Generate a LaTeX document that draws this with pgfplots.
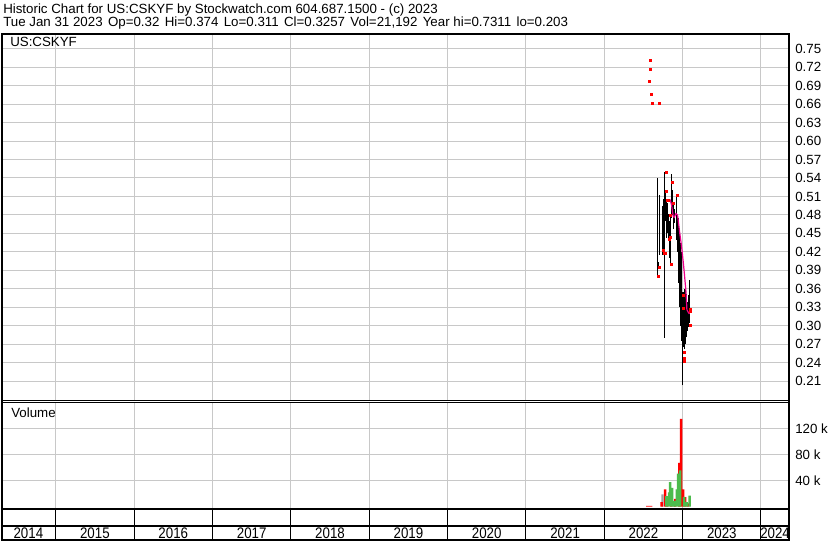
\documentclass[border=0pt]{standalone}
\usepackage{fontspec}
\setmainfont{Liberation Sans}
\usepackage{pgfplots}
\usepackage{pgfplotstable}
\pgfplotsset{compat=1.18}

\definecolor{gridgray}{RGB}{200,200,200}
\definecolor{volgreen}{RGB}{76,187,76}
\definecolor{volgray}{RGB}{160,160,160}

% daily high/low (x in decimal years)
\pgfplotstableread{
x        lo     hi
2022.680 0.381  0.540
2022.693 0.394  0.404
2022.706 0.415  0.513
2022.744 0.415  0.494
2022.759 0.417  0.506
2022.775 0.280  0.550
2022.785 0.470  0.520
2022.797 0.443  0.506
2022.808 0.450  0.500
2022.820 0.440  0.481
2022.830 0.410  0.470
2022.840 0.397  0.480
2022.859 0.475  0.547
2022.871 0.480  0.520
2022.880 0.457  0.500
2022.897 0.467  0.490
2022.918 0.443  0.513
2022.925 0.440  0.490
2022.931 0.430  0.480
2022.938 0.420  0.478
2022.944 0.400  0.475
2022.947 0.390  0.468
2022.950 0.380  0.470
2022.953 0.370  0.462
2022.957 0.356  0.456
2022.960 0.345  0.450
2022.963 0.350  0.440
2022.966 0.330  0.438
2022.969 0.340  0.435
2022.972 0.320  0.432
2022.976 0.320  0.430
2022.979 0.300  0.425
2022.982 0.300  0.420
2022.985 0.290  0.400
2022.988 0.282  0.390
2022.991 0.275  0.380
2022.995 0.203  0.354
2023.000 0.280  0.350
2023.005 0.285  0.340
2023.010 0.270  0.354
2023.013 0.268  0.352
2023.016 0.265  0.350
2023.019 0.262  0.348
2023.023 0.275  0.350
2023.026 0.270  0.345
2023.029 0.285  0.360
2023.032 0.272  0.358
2023.036 0.270  0.355
2023.039 0.280  0.350
2023.042 0.277  0.358
2023.045 0.282  0.352
2023.049 0.285  0.345
2023.052 0.288  0.342
2023.055 0.290  0.340
2023.058 0.292  0.338
2023.062 0.295  0.335
2023.065 0.296  0.336
2023.068 0.300  0.333
2023.071 0.298  0.330
2023.075 0.300  0.345
2023.078 0.300  0.350
2023.082 0.305  0.360
2023.085 0.305  0.365
2023.088 0.311  0.374
}\hilo

% red ticks (closes / single trades)
\pgfplotstableread{
x        y
2022.562 0.697
2022.574 0.731
2022.576 0.716
2022.587 0.676
2022.600 0.661
2022.685 0.661
2022.680 0.381
2022.684 0.395
2022.744 0.422
2022.759 0.417
2022.765 0.417
2022.778 0.550
2022.785 0.518
2022.797 0.504
2022.803 0.503
2022.825 0.479
2022.822 0.440
2022.836 0.443
2022.840 0.399
2022.862 0.533
2022.867 0.499
2022.920 0.512
2022.997 0.349
2022.999 0.329
2023.003 0.256
2023.003 0.247
2023.003 0.242
2023.080 0.300
2023.084 0.326
2023.090 0.323
}\closes

\pgfplotstableread{
x        y
2022.842 0.505
2022.861 0.495
2022.880 0.478
2022.893 0.476
2022.915 0.482
2022.935 0.480
2022.944 0.472
2022.961 0.453
2022.982 0.434
2022.999 0.415
2023.012 0.399
2023.024 0.383
2023.033 0.370
2023.042 0.358
2023.050 0.340
2023.055 0.326
2023.071 0.322
2023.088 0.319
}\avg

\pgfplotstableread{
x        v
2022.549 1200
2022.574 1200
2022.600 1200
2022.733 7000
2022.778 26500
2022.804 7000
2022.855 8000
2022.906 12000
2022.957 67500
2022.982 135000
2022.995 20000
2023.008 26500
2023.033 14500
2023.071 5000
}\volred

\pgfplotstableread{
x        v
2022.793 16000
2022.815 10000
2022.829 22000
2022.842 37700
2022.867 29000
2022.900 9000
2022.925 26500
2022.944 50600
2022.969 55700
2023.020 15000
2023.052 7000
2023.090 17000
}\volgreen

\pgfplotstableread{
x        v
2022.744 18800
2022.886 6000
}\volgray

\pgfplotsset{
  chartpane/.style={
    scale only axis, anchor=north west, width=591.75pt,
    xmin=2014.3015, xmax=2024.359,
    axis line style={draw=none},
    xtick={2015,2016,2017,2018,2019,2020,2021,2022,2023,2024},
    xticklabels={},
    grid=major, major grid style={gridgray, line width=0.75pt},
    major tick length=0pt,
    yticklabel pos=right,
    scaled y ticks=false,
    every tick label/.append style={font=\fontsize{10}{12}\selectfont},
    yticklabel style={anchor=west, inner sep=0pt, xshift=4.5pt},
  },
}

\begin{document}
\fontsize{10}{12}\selectfont
\begin{tikzpicture}
\begin{scope}[x=0.75pt, y=-0.75pt]
  \path[use as bounding box] (0,0) rectangle (830,543);
\end{scope}

% price pane
\begin{axis}[chartpane, at={(0pt,-24.75pt)}, height=276pt,
    ymin=0.1783, ymax=0.7757,
    ytick={0.21,0.24,0.27,0.30,0.33,0.36,0.39,0.42,0.45,0.48,0.51,0.54,0.57,0.60,0.63,0.66,0.69,0.72,0.75},
    yticklabels={0.21,0.24,0.27,0.30,0.33,0.36,0.39,0.42,0.45,0.48,0.51,0.54,0.57,0.60,0.63,0.66,0.69,0.72,0.75},
  ]
  \addplot[draw=none, mark=none,
    error bars/.cd, y dir=plus, y explicit, error mark=none,
    error bar style={draw=black, line width=0.75pt}]
    table[x=x, y=lo, y error expr=\thisrow{hi}-\thisrow{lo}] {\hilo};
  \addplot[only marks, mark=square*, mark size=0.75pt, color=red,
    mark options={draw=none, fill=red, xshift=0.75pt}]
    table[x=x, y=y] {\closes};
  \addplot[magenta, line width=0.9pt, mark=none] table[x=x, y=y] {\avg};
\end{axis}

% volume pane
\begin{axis}[chartpane, at={(0pt,-301.5pt)}, height=80.25pt,
    ymin=-2770, ymax=161850,
    ytick={40000,80000,120000},
    yticklabels={40 k,80 k,120 k},
  ]
  \addplot[ybar, bar width=1.8pt, bar shift=0pt, draw=none, fill=volgray] table[x=x, y=v] {\volgray};
  \addplot[ybar, bar width=1.8pt, bar shift=0pt, draw=none, fill=red] table[x=x, y=v] {\volred};
  \addplot[ybar, bar width=1.8pt, bar shift=0pt, draw=none, fill=volgreen] table[x=x, y=v] {\volgreen};
\end{axis}

\begin{scope}[x=0.75pt, y=-0.75pt]
  % header
  \node[anchor=base west, inner sep=0pt] at (2,13.5)
    {Historic Chart for US:CSKYF by Stockwatch.com 604.687.1500 - (c) 2023};
  \node[anchor=base west, inner sep=0pt] at (2,27)
    {Tue Jan 31 2023\hspace{4pt}Op=0.32\hspace{4pt}Hi=0.374\hspace{4pt}Lo=0.311\hspace{4pt}Cl=0.3257\hspace{4pt}Vol=21,192\hspace{4pt}Year hi=0.7311\hspace{4pt}lo=0.203};
  \node[anchor=base west, inner sep=0pt] at (9,46.5) {US:CSKYF};
  \node[anchor=base west, inner sep=0pt] at (10,418) {Volume};
  % frame and separators
  \draw[line width=1.5pt] (1,34) rectangle (789,541);
  \draw[line width=0.75pt] (0,400.5) -- (789,400.5);
  \draw[line width=0.75pt] (0,402.5) -- (789,402.5);
  \draw[line width=1.5pt] (0,509.5) -- (789,509.5);
  \draw[line width=1.5pt] (0,526.5) -- (789,526.5);
  \foreach \p in {54.8,133.3,211.7,290.2,368.6,447.1,525.5,604.0,682.4,760.9}
    \draw[line width=0.75pt] (\p,509.5) -- (\p,541);
  % year labels
  \foreach \p/\yr in {27.4/2014,94.0/2015,172.5/2016,251.0/2017,329.4/2018,407.9/2019,486.3/2020,564.8/2021,643.2/2022,721.7/2023,775.0/2024}
    \node[inner sep=0pt] at (\p,534) {\scalebox{1}[1.15]{\yr}};
\end{scope}
\end{tikzpicture}
\end{document}
